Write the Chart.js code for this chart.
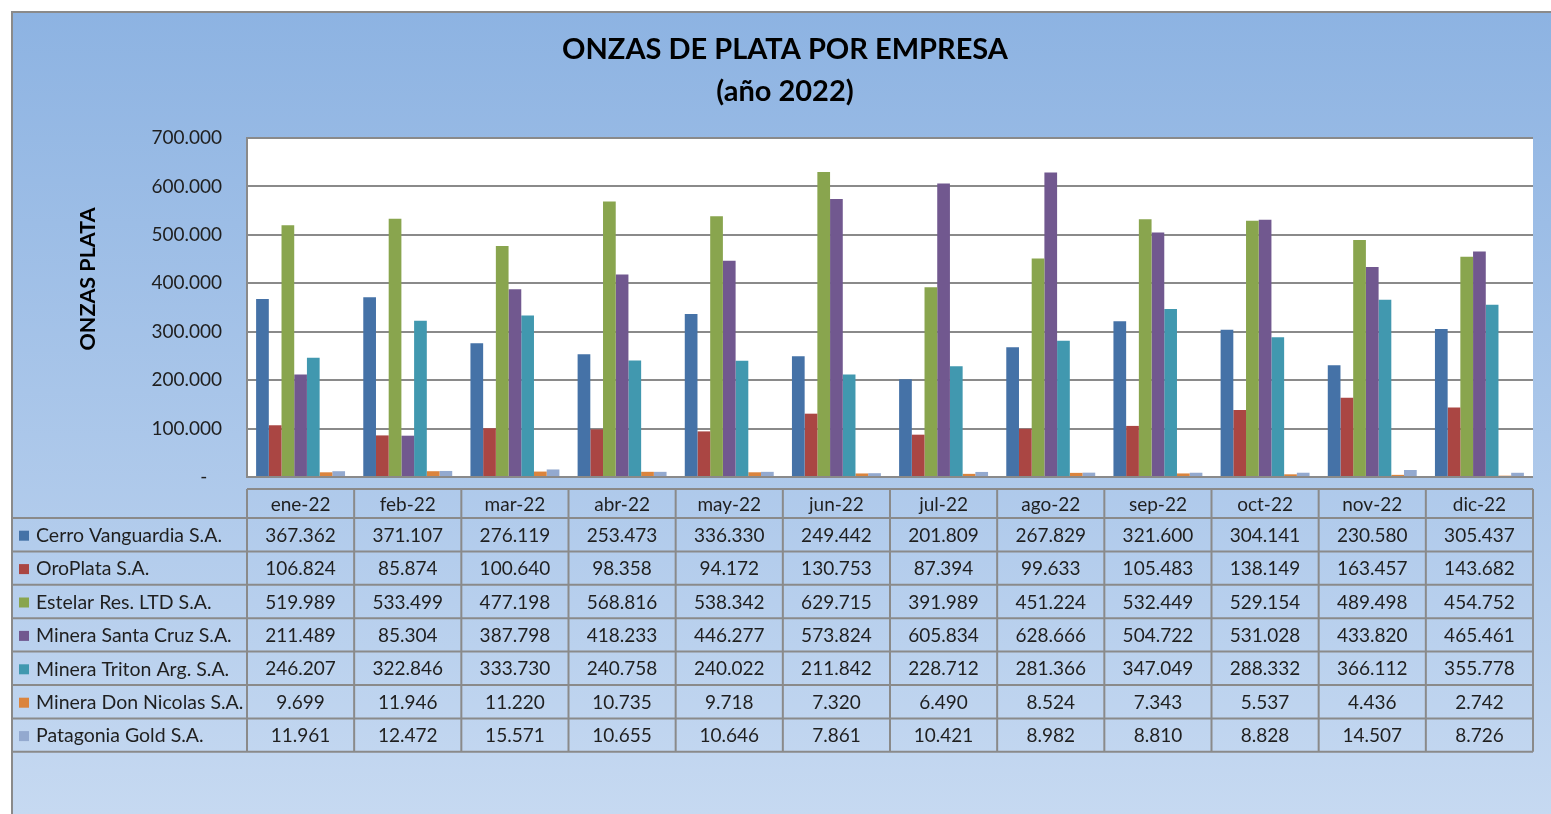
<!DOCTYPE html>
<html>
<head>
<meta charset="utf-8">
<script src="https://cdn.jsdelivr.net/npm/chart.js@4.4.1/dist/chart.umd.min.js"></script>
<style>
  html, body { margin: 0; padding: 0; background: #fff; }
  #wrap { width: 1551px; height: 814px; }
</style>
</head>
<body>
<div id="wrap"><canvas id="chart" width="1551" height="814"></canvas></div>
<script>
const months = ['ene-22', 'feb-22', 'mar-22', 'abr-22', 'may-22', 'jun-22', 'jul-22', 'ago-22', 'sep-22', 'oct-22', 'nov-22', 'dic-22'];

const cerroVanguardia = [367362, 371107, 276119, 253473, 336330, 249442, 201809, 267829, 321600, 304141, 230580, 305437];
const oroPlata = [106824, 85874, 100640, 98358, 94172, 130753, 87394, 99633, 105483, 138149, 163457, 143682];
const estelar = [519989, 533499, 477198, 568816, 538342, 629715, 391989, 451224, 532449, 529154, 489498, 454752];
const santaCruz = [211489, 85304, 387798, 418233, 446277, 573824, 605834, 628666, 504722, 531028, 433820, 465461];
const triton = [246207, 322846, 333730, 240758, 240022, 211842, 228712, 281366, 347049, 288332, 366112, 355778];
const donNicolas = [9699, 11946, 11220, 10735, 9718, 7320, 6490, 8524, 7343, 5537, 4436, 2742];
const patagoniaGold = [11961, 12472, 15571, 10655, 10646, 7861, 10421, 8982, 8810, 8828, 14507, 8726];

const yTicks = [0, 100000, 200000, 300000, 400000, 500000, 600000, 700000];

const series = [
    { label: 'Cerro Vanguardia S.A.', data: cerroVanguardia, color: '#4572A7' },
    { label: 'OroPlata S.A.', data: oroPlata, color: '#AA4643' },
    { label: 'Estelar Res. LTD S.A.', data: estelar, color: '#89A54E' },
    { label: 'Minera Santa Cruz S.A.', data: santaCruz, color: '#71588F' },
    { label: 'Minera Triton Arg. S.A.', data: triton, color: '#4198AF' },
    { label: 'Minera Don Nicolas S.A.', data: donNicolas, color: '#DB843D' },
    { label: 'Patagonia Gold S.A.', data: patagoniaGold, color: '#93A9CF' },
];

// 367362 -> "367.362"
function fmt(n) {
    return String(n).replace(/\B(?=(\d{3})+(?!\d))/g, '.');
}

const FONT = 'Lato, "Open Sans", sans-serif';
Chart.defaults.font.family = FONT;
Chart.defaults.color = '#1f1f1f';

const LINE = '#8a8a8a';

// outer panel gradient + white plot area
const background = {
    id: 'background',
    beforeDraw(chart) {
        const { ctx, chartArea } = chart;
        const g = ctx.createLinearGradient(0, 12, 0, 814);
        g.addColorStop(0, '#8DB3E2');
        g.addColorStop(1, '#C6D9F1');
        ctx.save();
        ctx.fillStyle = g;
        ctx.fillRect(12, 12, chart.width - 12, chart.height - 12);
        ctx.strokeStyle = LINE;
        ctx.lineWidth = 2;
        ctx.beginPath();
        ctx.moveTo(12, chart.height);
        ctx.lineTo(12, 12);
        ctx.lineTo(chart.width, 12);
        ctx.stroke();
        ctx.fillStyle = '#ffffff';
        ctx.fillRect(chartArea.left, chartArea.top, chartArea.right - chartArea.left, chartArea.bottom - chartArea.top);
        ctx.restore();
    }
};

// chart title and rotated y axis title
const titles = {
    id: 'titles',
    afterDraw(chart) {
        const { ctx } = chart;
        ctx.save();
        ctx.fillStyle = '#000';
        ctx.textAlign = 'center';
        ctx.textBaseline = 'middle';
        ctx.font = 'bold 29px ' + FONT;
        ctx.fillText('ONZAS DE PLATA POR EMPRESA', 785, 50);
        ctx.fillText('(año 2022)', 785, 92);
        ctx.translate(88, 279);
        ctx.rotate(-Math.PI / 2);
        ctx.font = 'bold 21.5px ' + FONT;
        ctx.fillText('ONZAS PLATA', 0, 0);
        ctx.restore();
    }
};

// data table under the plot, columns follow the x scale
const dataTable = {
    id: 'dataTable',
    afterDraw(chart) {
        const { ctx, scales: { x } } = chart;
        const colW = x.width / months.length;
        const headTop = 489, headH = 29, rowH = 33.4;
        const bodyTop = headTop + headH;
        const bottom = bodyTop + rowH * series.length;
        const right = x.right;

        ctx.save();
        ctx.textBaseline = 'middle';
        ctx.fillStyle = '#1f1f1f';

        // header
        ctx.font = '19px ' + FONT;
        ctx.textAlign = 'center';
        months.forEach((m, i) => {
            ctx.fillText(m, x.getPixelForValue(i), headTop + headH / 2 + 1);
        });

        // rows
        series.forEach((s, r) => {
            const cy = bodyTop + rowH * r + rowH / 2 + 1;
            ctx.fillStyle = s.color;
            ctx.fillRect(19, cy - 5, 10, 10);
            ctx.fillStyle = '#1f1f1f';
            ctx.textAlign = 'left';
            ctx.font = '19.5px ' + FONT;
            ctx.fillText(s.label, 36, cy);
            ctx.textAlign = 'center';
            ctx.font = '19px ' + FONT;
            s.data.forEach((v, i) => {
                ctx.fillText(fmt(v), x.getPixelForValue(i), cy);
            });
        });

        // grid lines
        ctx.strokeStyle = LINE;
        ctx.lineWidth = 2;
        ctx.beginPath();
        ctx.moveTo(x.left, headTop);
        ctx.lineTo(right, headTop);
        for (let r = 0; r <= series.length; r++) {
            const y = bodyTop + rowH * r;
            ctx.moveTo(12, y);
            ctx.lineTo(right, y);
        }
        for (let i = 0; i <= months.length; i++) {
            const cx = x.left + colW * i;
            ctx.moveTo(cx, headTop);
            ctx.lineTo(cx, bottom);
        }
        ctx.stroke();
        ctx.restore();
    }
};

new Chart(document.getElementById('chart'), {
    type: 'bar',
    data: {
        labels: months,
        datasets: series.map(s => ({
            label: s.label,
            data: s.data,
            backgroundColor: s.color,
            borderWidth: 0,
            categoryPercentage: 0.83,
            barPercentage: 1.0,
        }))
    },
    options: {
        responsive: false,
        animation: false,
        layout: {
            padding: { top: 138, right: 18, bottom: 337, left: 0 }
        },
        plugins: {
            legend: { display: false },
            tooltip: { enabled: false },
            title: { display: false }
        },
        scales: {
            x: {
                display: false,
            },
            y: {
                min: 0,
                max: 700000,
                afterBuildTicks: (scale) => {
                    scale.ticks = yTicks.map(v => ({ value: v }));
                },
                afterFit: (scale) => {
                    scale.width = 247;
                },
                ticks: {
                    padding: 25,
                    color: '#1f1f1f',
                    font: { size: 19 },
                    callback: (v) => v === 0 ? '-   ' : fmt(v)
                },
                grid: {
                    color: LINE,
                    lineWidth: 2,
                    drawTicks: false
                },
                border: {
                    display: true,
                    color: LINE,
                    width: 2
                }
            }
        }
    },
    plugins: [background, titles, dataTable]
});
</script>
</body>
</html>
